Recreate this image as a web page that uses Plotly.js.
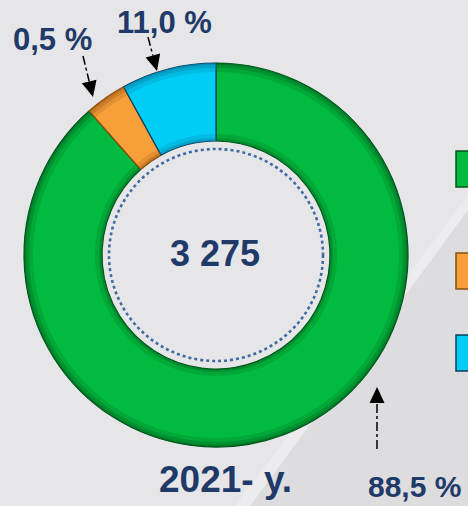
<!DOCTYPE html>
<html>
<head>
<meta charset="utf-8">
<script src="https://cdn.plot.ly/plotly-3.0.1.min.js"></script>
<style>
html,body{margin:0;padding:0;background:#e6e6e8;}
#chart{width:468px;height:506px;}
</style>
</head>
<body>
<div id="chart"></div>
<script>
// ---- data ----
var categories = ['Series 1', 'Series 2', 'Series 3'];
var shares = [88.5, 3.5, 8.0];              // slice sizes as drawn
var shareLabels = ['88,5 %', '0,5 %', '11,0 %']; // labels as printed
var totalLabel = '3 275';
var yearLabel = '2021- y.';

var colors = ['#00bb3f', '#f7a03a', '#00cdf6'];
var darkColors = ['#005f1f', '#9a5514', '#0a7598'];
var lineColors = ['#00571c', '#8a4f10', '#0b3d5c'];

var W = 468, H = 506;
function X(x){ return x / W; }
function Y(y){ return 1 - y / H; }

var cx = 216, cy = 255, R = 192, r = 114;
var navy = '#1f3a68';
var font = 'Liberation Sans, Arial, sans-serif';

function ring(rOut, rIn, op){
  return {
    type: 'pie', labels: categories, values: shares, sort: false,
    direction: 'clockwise', rotation: 0, hole: rIn / rOut, opacity: op,
    marker: {colors: darkColors, line: {width: 0}},
    textinfo: 'none', hoverinfo: 'none', showlegend: false,
    domain: {x: [X(cx - rOut), X(cx + rOut)], y: [Y(cy + rOut), Y(cy - rOut)]}
  };
}

var traces = [
  {
    type: 'pie', labels: categories, values: shares, sort: false,
    direction: 'clockwise', rotation: 0, hole: r / R,
    marker: {colors: colors, line: {color: lineColors, width: 1.2}},
    textinfo: 'none', hoverinfo: 'none', showlegend: false,
    domain: {x: [X(cx - R), X(cx + R)], y: [Y(cy + R), Y(cy - R)]}
  },
  ring(R, R - 9, 0.2),
  ring(R, R - 5, 0.3),
  ring(R, R - 2, 0.4),
  ring(r + 7, r, 0.2),
  ring(r + 3, r, 0.35)
];

// arrows: tail -> tip in pixels
var arrows = [
  {tail: [83, 56], tip: [93, 97]},
  {tail: [148, 37], tip: [157, 71]},
  {tail: [377, 449], tip: [377, 387]}
];

var shapes = [
  // subtle darker lower-right background
  {type: 'path', xref: 'paper', yref: 'paper', layer: 'below',
   path: 'M' + X(468) + ',' + Y(210) + ' L' + X(468) + ',' + Y(506) + ' L' + X(250) + ',' + Y(506) + ' Z',
   fillcolor: 'rgba(0,0,0,0.035)', line: {width: 0}},
  {type: 'path', xref: 'paper', yref: 'paper', layer: 'below',
   path: 'M' + X(468) + ',' + Y(195) + ' L' + X(468) + ',' + Y(210) + ' L' + X(250) + ',' + Y(506) + ' L' + X(235) + ',' + Y(506) + ' Z',
   fillcolor: 'rgba(255,255,255,0.25)', line: {width: 0}},
  // dotted circle in hole
  {type: 'circle', xref: 'paper', yref: 'paper',
   x0: X(cx - 107), x1: X(cx + 107), y0: Y(cy + 106), y1: Y(cy - 106),
   line: {color: '#3f6aa2', width: 2.6, dash: 'dot'}}
];

arrows.forEach(function(a){
  var dx = a.tip[0] - a.tail[0], dy = a.tip[1] - a.tail[1];
  var L = Math.sqrt(dx*dx + dy*dy);
  var ux = dx / L, uy = dy / L, nx = -uy, ny = ux;
  var bx = a.tip[0] - 16 * ux, by = a.tip[1] - 16 * uy;
  shapes.push({type: 'line', xref: 'paper', yref: 'paper',
    x0: X(a.tail[0]), y0: Y(a.tail[1]), x1: X(bx), y1: Y(by),
    line: {color: '#000', width: 1.5, dash: 'dashdot'}});
  shapes.push({type: 'path', xref: 'paper', yref: 'paper',
    path: 'M' + X(a.tip[0]) + ',' + Y(a.tip[1]) +
          ' L' + X(bx + 7.5 * nx) + ',' + Y(by + 7.5 * ny) +
          ' L' + X(bx - 7.5 * nx) + ',' + Y(by - 7.5 * ny) + ' Z',
    fillcolor: '#000', line: {width: 0}});
});

// legend keys (labels fall outside the visible area)
var keyTops = [151, 253, 335];
keyTops.forEach(function(t, i){
  shapes.push({type: 'rect', xref: 'paper', yref: 'paper',
    x0: X(456), x1: X(480), y0: Y(t + 36), y1: Y(t),
    fillcolor: colors[i], line: {color: lineColors[i], width: 1.5}});
});

function txt(x, y, s, size){
  return {xref: 'paper', yref: 'paper', x: X(x), y: Y(y), xanchor: 'center', yanchor: 'middle',
    text: '<b>' + s + '</b>', showarrow: false, font: {family: font, size: size, color: navy}};
}

var annotations = [
  txt(52, 40, shareLabels[1], 31),
  txt(164, 23, shareLabels[2], 31),
  txt(414, 486, shareLabels[0], 30),
  txt(215, 253, totalLabel, 36),
  txt(225, 479, yearLabel, 37)
];

var layout = {
  width: W, height: H,
  margin: {l: 0, r: 0, t: 0, b: 0},
  paper_bgcolor: '#e6e6e8', plot_bgcolor: '#e6e6e8',
  showlegend: false,
  shapes: shapes,
  annotations: annotations
};

Plotly.newPlot('chart', traces, layout, {displayModeBar: false, staticPlot: true});
</script>
</body>
</html>
